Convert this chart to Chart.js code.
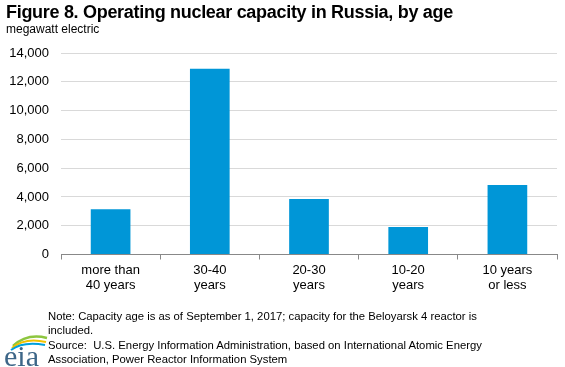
<!DOCTYPE html>
<html>
<head>
<meta charset="utf-8">
<script src="https://cdn.jsdelivr.net/npm/chart.js@4"></script>
<style>
  body { margin: 0; background: #fff; font-family: "Liberation Sans", Arial, sans-serif; }
  #wrap { position: relative; width: 565px; height: 367px; overflow: hidden; }
  #chart { position: absolute; left: 0; top: 0; }
  .title { position: absolute; left: 6px; top: 2px; font-size: 18px; letter-spacing: -0.3px; font-weight: bold; color: #000; white-space: nowrap; }
  .units { position: absolute; left: 6px; top: 22px; font-size: 12px; color: #000; }
  .notes { position: absolute; left: 48px; top: 309px; font-size: 11.3px; line-height: 14.3px; color: #000; width: 510px; white-space: nowrap; }
  #logo { position: absolute; left: 3px; top: 333px; }
</style>
</head>
<body>
<div id="wrap">
  <canvas id="chart" width="565" height="367"></canvas>
  <div class="title">Figure 8. Operating nuclear capacity in Russia, by age</div>
  <div class="units">megawatt electric</div>
  <div class="notes">Note: Capacity age is as of September 1, 2017; capacity for the Beloyarsk 4 reactor is<br>included.<br>Source:&nbsp; U.S. Energy Information Administration, based on International Atomic Energy<br>Association, Power Reactor Information System</div>
  <svg id="logo" width="46" height="34" viewBox="0 0 46 34">
    <path d="M10 13 Q24 0 44 5" stroke="#8dc63f" stroke-width="2.5" fill="none"/>
    <path d="M9 15 Q22 4 43 9" stroke="#f2c300" stroke-width="2" fill="none"/>
    <path d="M8 17 Q20 8 42 12" stroke="#00a0dc" stroke-width="2" fill="none"/>
    <text x="1" y="33" font-family="Liberation Serif, serif" font-size="30" fill="#3d6688">eia</text>
  </svg>
</div>
<script>
const categories = [["more than", "40 years"], ["30-40", "years"], ["20-30", "years"], ["10-20", "years"], ["10 years", "or less"]];
const capacity = [3140, 12900, 3860, 1910, 4830];
const yTicks = [0, 2000, 4000, 6000, 8000, 10000, 12000, 14000];

const ctx = document.getElementById('chart').getContext('2d');
new Chart(ctx, {
    type: 'bar',
    data: {
        labels: categories,
        datasets: [{
            data: capacity,
            backgroundColor: '#0096d7',
            categoryPercentage: 0.4,
            barPercentage: 1
        }]
    },
    options: {
        responsive: false,
        animation: false,
        layout: { padding: { left: 0, right: 8, top: 53, bottom: 67 } },
        plugins: { legend: { display: false }, tooltip: { enabled: false } },
        scales: {
            x: {
                offset: true,
                afterFit: s => { s.height = 45.5; },
                grid: { offset: true, drawOnChartArea: false, tickLength: 5, color: '#888' },
                border: { color: '#888', width: 1 },
                ticks: { color: '#000', padding: 3, maxRotation: 0, font: { family: 'Liberation Sans', size: 13 } }
            },
            y: {
                min: 0,
                max: 14000,
                afterFit: s => { s.width = 61; },
                afterBuildTicks: s => { s.ticks = yTicks.map(v => ({ value: v })); },
                grid: { color: '#d9d9d9', drawTicks: false },
                border: { display: false },
                ticks: {
                    color: '#000',
                    padding: 12,
                    font: { family: 'Liberation Sans', size: 13 },
                    callback: v => v.toLocaleString('en-US')
                }
            }
        }
    }
});
</script>
</body>
</html>
